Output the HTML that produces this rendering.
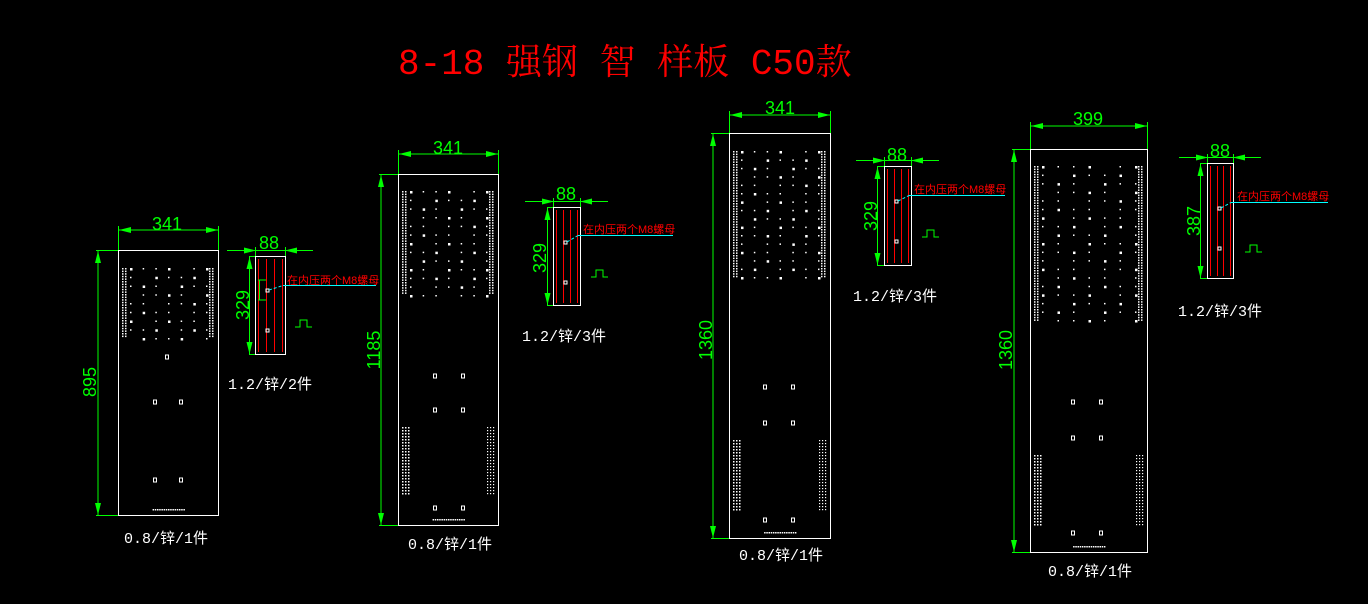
<!DOCTYPE html>
<html><head><meta charset="utf-8">
<style>
html,body{margin:0;padding:0;background:#000;width:1368px;height:604px;overflow:hidden}
svg{display:block}
.w{fill:#fff;font-family:"Liberation Mono","Noto Sans CJK SC",monospace;font-size:15px}
.g{fill:#0f0;font-family:"Liberation Sans Narrow","Liberation Sans",sans-serif;font-size:18px}
.r{fill:#f00;font-family:"Liberation Sans","Noto Sans CJK SC",sans-serif;font-size:11px}
</style></head><body>
<svg id="s" width="1368" height="604" viewBox="0 0 1368 604" xmlns="http://www.w3.org/2000/svg">
<rect width="1368" height="604" fill="#000"/>
<text x="398" y="74" fill="#f00" style="font-family:'Liberation Mono','Noto Serif CJK SC',monospace;font-size:36px">8-18 强钢 智 样板 C50款</text>
<text class="w" x="124" y="543">0.8/锌/1件</text>
<text class="w" x="408" y="549">0.8/锌/1件</text>
<text class="w" x="739" y="560">0.8/锌/1件</text>
<text class="w" x="1048" y="576">0.8/锌/1件</text>
<text class="w" x="228" y="389">1.2/锌/2件</text>
<text class="w" x="522" y="341">1.2/锌/3件</text>
<text class="w" x="853" y="301">1.2/锌/3件</text>
<text class="w" x="1178" y="316">1.2/锌/3件</text>
<text class="g" x="167" y="230" text-anchor="middle">341</text>
<text class="g" x="448" y="154" text-anchor="middle">341</text>
<text class="g" x="780" y="114" text-anchor="middle">341</text>
<text class="g" x="1088" y="125" text-anchor="middle">399</text>
<text class="g" x="269" y="249" text-anchor="middle">88</text>
<text class="g" x="566" y="200" text-anchor="middle">88</text>
<text class="g" x="897" y="161" text-anchor="middle">88</text>
<text class="g" x="1220" y="157" text-anchor="middle">88</text>
<text class="g" transform="translate(96,382) rotate(-90)" text-anchor="middle">895</text>
<text class="g" transform="translate(380,350) rotate(-90)" text-anchor="middle">1185</text>
<text class="g" transform="translate(712,340) rotate(-90)" text-anchor="middle">1360</text>
<text class="g" transform="translate(1012,350) rotate(-90)" text-anchor="middle">1360</text>
<text class="g" transform="translate(249,305) rotate(-90)" text-anchor="middle">329</text>
<text class="g" transform="translate(546,258) rotate(-90)" text-anchor="middle">329</text>
<text class="g" transform="translate(877,216) rotate(-90)" text-anchor="middle">329</text>
<text class="g" transform="translate(1200,221) rotate(-90)" text-anchor="middle">387</text>
<text class="r" x="287" y="284">在内压两个M8螺母</text>
<text class="r" x="583" y="233">在内压两个M8螺母</text>
<text class="r" x="914" y="193">在内压两个M8螺母</text>
<text class="r" x="1237" y="200">在内压两个M8螺母</text>
<g id="gfx"></g>
</svg>
<script>
var G=document.getElementById('gfx'),h='';
function L(x1,y1,x2,y2,c,w){h+='<line x1="'+x1+'" y1="'+y1+'" x2="'+x2+'" y2="'+y2+'" stroke="'+c+'" stroke-width="'+(w||1)+'"/>';}
function R(x,y,w,hh,c,f){h+='<rect x="'+x+'" y="'+y+'" width="'+w+'" height="'+hh+'" fill="'+(f||'none')+'" stroke="'+(c||'none')+'"/>';}
function D(x,y,s){R(x,y,s||2,s||2,null,'#fff');}
function ah(x,y,dir){var g='#0f0';
 if(dir=='l')h+='<polygon points="'+x+','+y+' '+(x+12)+','+(y-3)+' '+(x+12)+','+(y+3)+'" fill="'+g+'"/>';
 if(dir=='r')h+='<polygon points="'+x+','+y+' '+(x-12)+','+(y-3)+' '+(x-12)+','+(y+3)+'" fill="'+g+'"/>';
 if(dir=='u')h+='<polygon points="'+x+','+y+' '+(x-3)+','+(y+12)+' '+(x+3)+','+(y+12)+'" fill="'+g+'"/>';
 if(dir=='d')h+='<polygon points="'+x+','+y+' '+(x-3)+','+(y-12)+' '+(x+3)+','+(y-12)+'" fill="'+g+'"/>';}
function panel(x1,x2,y1,y2,dy,dx,d0,d1,holes,s0,s1){
 var g='#0f0';
 R(x1+.5,y1+.5,x2-x1,y2-y1,'#fff');
 L(x1+.5,dy,x2+.5,dy,g);L(x1+.5,dy-4,x1+.5,y1,g);L(x2+.5,dy-4,x2+.5,y1,g);ah(x1+1,dy,'l');ah(x2,dy,'r');
 L(dx,y1+.5,dx,y2+.5,g);L(dx-2,y1+.5,x1,y1+.5,g);L(dx-2,y2+.5,x1,y2+.5,g);ah(dx,y1+1,'u');ah(dx,y2,'d');
 var cols=7,ix1=x1+8,ix2=x2-8;
 for(var y=d0;y<=d1;y+=2.6){D(x1+4,y,1.5);D(x1+7,y,1.5);D(x2-6,y,1.5);D(x2-9,y,1.5);}
 var rows=Math.round((d1-d0)/8.5);
 for(var r=0;r<=rows;r++){var yy=d0+r*(d1-d0)/rows;
  for(var c=0;c<cols;c++){if((r*3+c)%5==4)continue;D(ix1+4+c*(ix2-ix1-8)/(cols-1),yy,(r+c)%3==0?2.5:1.5);}}
 holes.forEach(function(p){R(p[0]-1.5,p[1]-2,3,4,'#fff');});
 var bx=(x1+x2)/2;for(var i=-7;i<=7;i++)D(bx+i*2.2,y2-6,1.5);
 for(var y=s0;y<=s1;y+=3){D(x1+4,y,1.5);D(x1+7,y,1.5);D(x1+10,y,1.5);D(x2-5,y,1.2);D(x2-8,y,1.2);D(x2-11,y,1.2);}
}
panel(118,218,250,515,230,98,268,338,[[167,357],[155,402],[181,402],[155,480],[181,480]],0,-1);
panel(398,498,174,525,154,381,191,295,[[435,376],[463,376],[435,410],[463,410],[435,508],[463,508]],427,495);
panel(729,830,133,538,115,713,151,277,[[765,387],[793,387],[765,423],[793,423],[765,520],[793,520]],440,510);
panel(1030,1147,149,552,126,1014,166,320,[[1073,402],[1101,402],[1073,438],[1101,438],[1073,533],[1101,533]],455,525);
function strip(x1,x2,y1,y2,dy,dx,ly,lx2,hy,px,py){
 var g='#0f0';
 R(x1+.5,y1+.5,x2-x1,y2-y1,'#fff');
 var n=4;for(var i=0;i<n;i++){var xx=Math.round(x1+3+i*(x2-x1-6)/(n-1))+.5;L(xx,y1+3,xx,y2-2,'#f00');}
 L(x1-28,dy+.5,x2+28,dy+.5,g);L(x1+.5,dy-3,x1+.5,y1,g);L(x2+.5,dy-3,x2+.5,y1,g);ah(x1+1,dy+.5,'r');ah(x2,dy+.5,'l');
 L(dx+.5,y1+.5,dx+.5,y2+.5,g);L(dx,y1+.5,x1,y1+.5,g);L(dx,y2+.5,x1,y2+.5,g);ah(dx+.5,y1+1,'u');ah(dx+.5,y2,'d');
 R(x1+11,hy,3,3,'#fff');R(x1+11,hy+40,3,3,'#fff');
 L(x2-2,ly+.5,lx2,ly+.5,'#0ff');
 h+='<polyline points="'+(x1+14)+','+(hy+1)+' '+(x2-2)+','+(ly+.5)+'" fill="none" stroke="#0ff" stroke-dasharray="3,2"/>';
 h+='<polyline points="'+px+','+(py+7)+' '+(px+5)+','+(py+7)+' '+(px+5)+','+py+' '+(px+12)+','+py+' '+(px+12)+','+(py+7)+' '+(px+17)+','+(py+7)+'" fill="none" stroke="#0f0"/>';
}
strip(255,285,256,354,250,249,285,376,289,295,320);
strip(553,580,207,305,201,547,235,673,241,591,270);
strip(884,911,166,265,160,877,195,1005,200,922,230);
strip(1207,1233,163,278,157,1200,202,1328,207,1245,245);
L(258,280,266,280,'#0f0');L(258,300,266,300,'#0f0');L(259.5,280,259.5,300,'#0f0');
G.innerHTML=h;
</script>
</body></html>
